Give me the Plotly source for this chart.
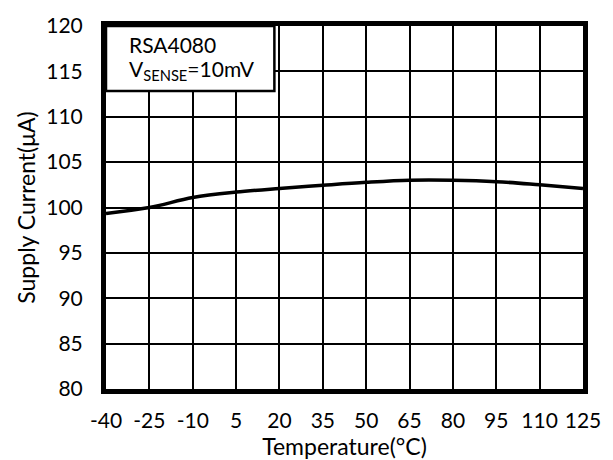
import plotly.graph_objects as go

# Supply current vs temperature
temperature = [-40, -25, -10, 5, 20, 35, 50, 65, 80, 95, 110, 125]
supply_current = [99.35, 100.0, 101.1, 101.7, 102.1, 102.45, 102.77, 103.0, 103.0, 102.85, 102.5, 102.1]

x_ticks = [-40, -25, -10, 5, 20, 35, 50, 65, 80, 95, 110, 125]
y_ticks = [80, 85, 90, 95, 100, 105, 110, 115, 120]

FONT = "Lato, Open Sans, sans-serif"

fig = go.Figure()
fig.add_trace(go.Scatter(
    x=temperature, y=supply_current, mode="lines",
    line=dict(color="black", width=3.5, shape="spline"),
    showlegend=False, hoverinfo="skip",
))

axis_common = dict(
    showgrid=True, gridcolor="black", gridwidth=1.6,
    showline=True, linecolor="black", linewidth=5, mirror=True,
    zeroline=False, ticks="", tickfont=dict(family=FONT, size=21, color="black"),
)

fig.update_xaxes(
    range=[-40, 125], tickvals=x_ticks, ticktext=[str(v) for v in x_ticks],
    ticklabelstandoff=9,
    title=dict(text="Temperature(°C)", font=dict(family=FONT, size=23, color="black"), standoff=0),
    **axis_common,
)
fig.update_yaxes(
    range=[80, 120], tickvals=y_ticks,
    ticklabelstandoff=14,
    title=dict(text="Supply Current(μA)", font=dict(family=FONT, size=23, color="black"), standoff=6),
    **axis_common,
)

# Annotation box in top-left corner of the plot
fig.add_shape(
    type="rect", xref="x domain", yref="y domain",
    x0=0, x1=0.353, y0=0.821, y1=1.0,
    fillcolor="white", line=dict(color="black", width=2.5), layer="above",
)
fig.add_annotation(
    xref="x domain", yref="y domain", x=0.045, y=0.95,
    xanchor="left", yanchor="middle", showarrow=False, align="left",
    text="RSA4080",
    font=dict(family=FONT, size=21, color="black"),
)
fig.add_annotation(
    xref="x domain", yref="y domain", x=0.045, y=0.88,
    xanchor="left", yanchor="middle", showarrow=False, align="left",
    text="V<sub>SENSE</sub>=10mV",
    font=dict(family=FONT, size=21, color="black"),
)

fig.update_layout(
    width=613, height=460,
    margin=dict(l=106, r=29, t=15, b=67),
    paper_bgcolor="white", plot_bgcolor="white",
)

fig.write_html("out.html")
